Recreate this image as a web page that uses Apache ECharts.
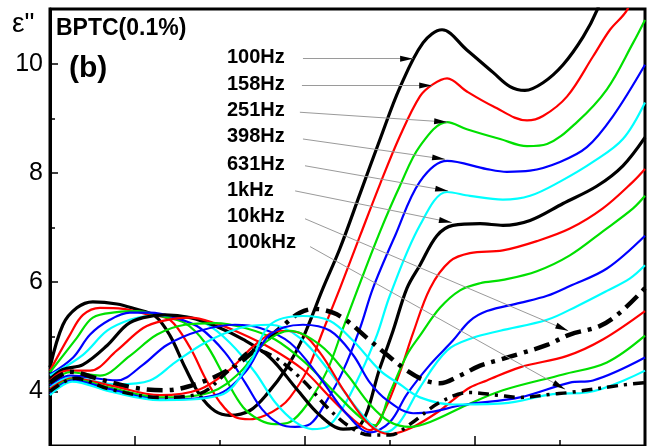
<!DOCTYPE html>
<html><head><meta charset="utf-8">
<script src="https://cdn.jsdelivr.net/npm/echarts@6/dist/echarts.min.js"></script>
<style>html,body{margin:0;padding:0;background:#fff}#c{width:650px;height:446px}</style>
</head><body><div id="c"></div>
<script>
// ---- axis ticks ----
const yTicks = [4, 6, 8, 10];
const yMinorTicks = [5, 7, 9];
const xTicks = [50, 100, 150];
const xMinorTicks = [75, 125, 175];

// ---- curves: [temperature, eps''] ----
const f100Hz = [[25,4.44],[28.8,5.22],[32.9,5.53],[37.6,5.64],[44.7,5.6],[50,5.51],[55.9,5.38],[60.3,5.02],[64.7,4.44],[69.1,3.93],[73.5,3.64],[77.9,3.56],[83.8,3.65],[88.8,3.95],[94.7,4.44],[99.4,4.98],[105.3,5.89],[110.3,6.62],[116.2,7.62],[122.1,8.62],[127.9,9.56],[134.7,10.38],[140.3,10.62],[147.6,10.25],[155.3,9.84],[160.3,9.58],[164.7,9.51],[170,9.65],[175.9,9.98],[181.8,10.49],[185.9,10.98],[188,11.4]];
const f158Hz = [[25,4.38],[30.9,5.04],[34.7,5.4],[39.7,5.53],[46.5,5.51],[54.4,5.4],[60.3,5.31],[66.2,4.8],[70.6,4.25],[75,3.8],[79.4,3.53],[83.8,3.49],[88.2,3.56],[92.6,3.71],[95.6,3.89],[100.6,4.38],[105.3,5.11],[110.3,5.89],[116.2,6.85],[122.1,7.8],[127.9,8.67],[133.8,9.4],[137.6,9.62],[141.8,9.73],[147.6,9.49],[155.3,9.22],[165.3,8.96],[170,9.04],[177.1,9.4],[184.7,10.13],[189.7,10.62],[194.7,10.98],[196,11.3]];
const f251Hz = [[25,4.35],[32.9,4.98],[37.6,5.35],[44.7,5.45],[50.6,5.47],[57.4,5.38],[64.7,5.25],[70.6,4.89],[76.5,4.25],[81.8,3.71],[86.8,3.47],[91.2,3.4],[95.6,3.44],[100.6,3.76],[106.5,4.38],[111.2,5.16],[115.6,5.89],[122.1,6.93],[127.9,7.76],[133.8,8.49],[141.8,8.93],[147.6,8.8],[157.4,8.62],[165.3,8.49],[171.2,8.53],[180,8.93],[188.8,9.53],[196.5,10.38],[200,10.8]];
const f398Hz = [[25,4.31],[31.8,4.62],[36.8,5.04],[42.6,5.31],[48.5,5.44],[54.4,5.44],[61.8,5.35],[69.1,5.16],[76.5,4.71],[82.4,4.16],[87.4,3.67],[92.6,3.4],[97.1,3.35],[101.5,3.4],[106.5,3.84],[111.2,4.38],[116.2,5.16],[120,5.89],[126.5,6.85],[133.8,7.84],[141.8,8.22],[153.5,8.07],[159.4,8.02],[166.2,8.04],[175,8.2],[182.9,8.47],[190.6,9.04],[200,9.98]];
const f631Hz = [[25,4.29],[34.7,4.67],[41.8,5.11],[48.5,5.31],[54.4,5.38],[63.2,5.38],[70.6,5.25],[77.9,4.89],[85.3,4.35],[91.2,3.8],[97.1,3.44],[102.1,3.31],[106.5,3.35],[111.2,3.71],[116.2,4.31],[121.2,5.04],[125,5.76],[133.8,7.04],[141.8,7.65],[148.5,7.58],[158.2,7.51],[166.2,7.58],[175,7.84],[184.7,8.2],[193.5,8.62],[200,9.29]];
const f1kHz = [[25,4.22],[28.8,4.4],[34.7,4.49],[41.8,4.84],[47.6,5.22],[52.4,5.35],[58.8,5.4],[66.2,5.35],[73.5,5.2],[81.8,4.95],[89.7,4.62],[97.6,4.04],[104.4,3.56],[111.2,3.31],[116.2,3.38],[122.1,4.44],[125.9,5.11],[130,5.89],[133.8,6.31],[138.8,6.85],[143.5,7.04],[151.5,7.07],[158.2,7.04],[166.2,7.13],[175.9,7.44],[185.9,7.76],[193.5,8.13],[200,8.65]];
const f1k58Hz = [[25,4.2],[30,4.38],[36.8,4.38],[44.7,4.75],[52.4,5.16],[58.2,5.29],[66.2,5.35],[73.5,5.25],[80.9,5.07],[89.7,4.8],[99.4,4.4],[107.4,3.89],[114.1,3.49],[119.1,3.29],[123.5,3.67],[127.9,4.35],[131.8,5.07],[136.8,5.89],[142.6,6.38],[148.5,6.53],[158.2,6.58],[168.2,6.75],[177.9,6.98],[187.6,7.35],[196.5,7.84],[200,8.07]];
const f2k51Hz = [[25,4.16],[30.9,4.35],[39.7,4.29],[48.5,4.65],[56.5,5.04],[64.7,5.22],[73.5,5.25],[82.4,5.16],[91.2,4.95],[100,4.53],[108.8,3.98],[116.2,3.53],[120.6,3.38],[125,3.98],[130,4.67],[133.8,5.02],[139.7,5.53],[145.6,5.85],[151.5,5.98],[158.2,6.04],[168.2,6.2],[177.9,6.49],[187.6,6.93],[196.5,7.35],[200,7.58]];
const f3k98Hz = [[25,4.11],[30.9,4.29],[44.7,4.2],[52.4,4.49],[59.4,4.85],[69.1,5.11],[79.4,5.22],[86.8,5.16],[95.6,4.89],[104.4,4.25],[111.8,3.62],[119.1,3.25],[125,3.44],[130,3.95],[136.8,4.49],[143.5,4.93],[148.5,5.29],[153.5,5.47],[163.2,5.62],[171.2,5.75],[177.9,5.93],[188.8,6.25],[200,6.85]];
const f6k31Hz = [[25,4.07],[30.9,4.25],[44.7,4.13],[54.4,4.2],[61.8,4.53],[70.6,4.89],[80.9,5.16],[89.7,5.22],[98.5,4.98],[107.4,4.35],[116.2,3.62],[123.5,3.25],[127.9,3.44],[133.8,4.07],[141.8,4.75],[149.4,4.98],[157.4,5.11],[171.2,5.31],[180,5.56],[188.8,5.84],[195.6,6.07],[200,6.31]];
const f10kHz = [[25,4.16],[30.9,4.36],[39.7,4.22],[49.4,4.07],[58.8,4.02],[69.1,4.16],[78.8,4.44],[86.8,4.84],[93.5,5.2],[98.5,5.44],[102.9,5.51],[108.2,5.44],[112.4,5.29],[118.2,4.98],[124.1,4.67],[130,4.38],[135.3,4.2],[139.7,4.15],[145.6,4.29],[151.5,4.47],[157.4,4.58],[163.2,4.69],[171.2,4.85],[177.9,5.04],[186.8,5.2],[192.6,5.44],[200,5.89]];
const f15k8Hz = [[25,4.04],[31.5,4.24],[42.6,4.11],[57.4,3.93],[69.1,4.04],[77.9,4.4],[85.3,4.85],[92.6,5.11],[98.5,5.07],[104.4,4.71],[111.8,3.98],[119.1,3.38],[125,3.22],[131.8,3.35],[139.7,3.65],[143.5,3.84],[148.5,4.07],[153.5,4.2],[163.2,4.44],[177.1,4.65],[187.6,4.95],[200,5.47]];
const f25k1Hz = [[25,4.0],[31.5,4.22],[42.6,4.07],[57.4,3.89],[72.1,3.98],[80.9,4.35],[88.2,4.89],[95.6,5.11],[104.4,4.85],[112.4,4.31],[119.1,3.76],[125,3.44],[130.9,3.35],[136.8,3.44],[147.6,3.75],[158.2,4.02],[175.9,4.31],[188.8,4.53],[200,5.02]];
const f39k8Hz = [[25,3.96],[31.5,4.2],[42.6,4.04],[57.4,3.85],[73.5,3.93],[82.4,4.35],[89.7,5.04],[99.4,5.22],[107.4,5.11],[114.1,4.67],[119.1,4.16],[124.1,3.84],[131.8,3.6],[136.8,3.62],[146.5,3.75],[163.2,3.89],[177.9,4.16],[184.7,4.2],[200,4.62]];
const f63k1Hz = [[25,3.93],[31.5,4.18],[42.6,4.0],[57.4,3.84],[75,3.93],[83.8,4.53],[89.7,5.22],[99.4,5.38],[107.4,5.29],[114.1,4.93],[122.1,4.38],[127.9,4.13],[133.8,3.89],[143.5,3.76],[158.2,3.78],[172.9,3.95],[182.9,3.98],[200,4.38]];
const f100kHz = [[25,4.0],[32.4,4.24],[42.6,4.04],[57.4,3.89],[69.1,3.96],[77.9,4.4],[85.3,4.76],[91.2,4.62],[99.4,4.2],[106.5,3.71],[113.2,3.35],[119.1,3.2],[125,3.2],[130.9,3.4],[139.7,3.8],[148.5,3.98],[156.5,3.93],[163.2,3.89],[172.9,3.95],[177.9,3.98],[192.6,4.11],[200,4.16]];

// ---- annotation labels and arrows (data coords) ----
const freqLabels = ['100Hz','158Hz','251Hz','398Hz','631Hz','1kHz','10kHz','100kHz'];
const arrowStart = [[99.4,10.09],[99.1,9.6],[98.5,9.11],[99.4,8.62],[100,8.13],[97.1,7.67],[100,7.16],[101.5,6.65]];
const arrowEnd = [[131.8,10.09],[137.4,9.6],[141.8,8.93],[141.2,8.25],[142.1,7.67],[143.2,7.09],[177.4,5.11],[176.5,4.04]];

const RED='#ff0000', GRN='#00e000', BLU='#0000ff', CYN='#00ffff', BLK='#000000';
const curves = [
  {name:'100Hz', data:f100Hz, color:BLK, width:3.2},
  {name:'158Hz', data:f158Hz, color:RED, width:2.2},
  {name:'251Hz', data:f251Hz, color:GRN, width:2.2},
  {name:'398Hz', data:f398Hz, color:BLU, width:2.2},
  {name:'631Hz', data:f631Hz, color:CYN, width:2.2},
  {name:'1kHz', data:f1kHz, color:BLK, width:3.2},
  {name:'1.58kHz', data:f1k58Hz, color:RED, width:2.2},
  {name:'2.51kHz', data:f2k51Hz, color:GRN, width:2.2},
  {name:'3.98kHz', data:f3k98Hz, color:BLU, width:2.2},
  {name:'6.31kHz', data:f6k31Hz, color:CYN, width:2.2},
  {name:'10kHz', data:f10kHz, color:BLK, width:4.5, dash:[16,7,4,7]},
  {name:'15.8kHz', data:f15k8Hz, color:RED, width:2.2},
  {name:'25.1kHz', data:f25k1Hz, color:GRN, width:2.2},
  {name:'39.8kHz', data:f39k8Hz, color:BLU, width:2.2},
  {name:'63.1kHz', data:f63k1Hz, color:CYN, width:2.2},
  {name:'100kHz', data:f100kHz, color:BLK, width:3.5, dash:[11,6,3,6]}
];

const series = curves.map(c => ({
  name: c.name, type: 'line', data: c.data, showSymbol: false, smooth: 0.35,
  clip: true, animation: false,
  lineStyle: {color: c.color, width: c.width, type: c.dash ? c.dash : 'solid', cap: 'butt'}
}));

// gray leader lines
series.push({
  type: 'line', data: [], silent: true,
  markLine: {
    silent: true, animation: false, symbol: ['none','none'], label: {show:false},
    lineStyle: {color:'#9a9a9a', width:1, type:'solid'},
    data: arrowStart.map((s,i) => [{coord:s}, {coord:arrowEnd[i]}])
  }
});
// black arrow heads at the ends of the leaders
const HEAD_W = 6, HEAD_H = 13;
const headPoints = arrowStart.map((s,i) => {
  const e = arrowEnd[i];
  const th = Math.atan2((e[1]-s[1])*55, (e[0]-s[0])*3.4);
  return {
    coord: e,
    symbolRotate: th * 180 / Math.PI - 90,
    symbolOffset: [-(HEAD_H/2)*Math.cos(th), (HEAD_H/2)*Math.sin(th)]
  };
});
series.push({
  type: 'line', data: [], silent: true,
  markPoint: {
    silent: true, animation: false, symbol: 'triangle', symbolSize: [HEAD_W, HEAD_H],
    label: {show:false}, itemStyle: {color:'#000'},
    data: headPoints
  }
});

const FONT = 'Liberation Sans, Arial, sans-serif';
const labelY = [57, 84, 110, 136, 164, 190, 216, 242];
const graphic = [
  {type:'text', left:12, top:10, style:{text:'ε"', font:'28px ' + FONT, fill:'#000'}},
  {type:'text', left:56, top:17, style:{text:'BPTC(0.1%)', font:'bold 23px ' + FONT, fill:'#000'}},
  {type:'text', left:69, top:54, style:{text:'(b)', font:'bold 30px ' + FONT, fill:'#000'}}
].concat(freqLabels.map((t,i) => ({
  type:'text', left:227, top: labelY[i] - 10, style:{text:t, font:'bold 20px ' + FONT, fill:'#000'}
})));

const chart = echarts.init(document.getElementById('c'), null, {renderer:'canvas'});
chart.setOption({
  animation: false,
  backgroundColor: '#fff',
  grid: {left:50, top:9, width:595, height:440, show:true, borderColor:'#000', borderWidth:3, backgroundColor:'transparent'},
  xAxis: [
    {type:'value', min:25, max:200, interval:25, axisLine:{show:false}, splitLine:{show:false},
     axisLabel:{show:false}, axisTick:{inside:true, length:10, customValues:xTicks, lineStyle:{color:'#000', width:1.5}}},
    {type:'value', min:25, max:200, interval:25, position:'bottom', axisLine:{show:false}, splitLine:{show:false},
     axisLabel:{show:false}, axisTick:{inside:true, length:6, customValues:xMinorTicks, lineStyle:{color:'#000', width:1.5}}}
  ],
  yAxis: [
    {type:'value', min:3, max:11, interval:1, axisLine:{show:true, lineStyle:{color:'#000', width:3}}, splitLine:{show:false},
     axisTick:{inside:true, length:8, customValues:yTicks, lineStyle:{color:'#000', width:1.5}},
     axisLabel:{customValues:yTicks, color:'#000', fontSize:25, fontFamily:FONT, margin:7}},
    {type:'value', min:3, max:11, interval:1, position:'left', axisLine:{show:false}, splitLine:{show:false},
     axisTick:{inside:true, length:5, customValues:yMinorTicks, lineStyle:{color:'#000', width:1.5}},
     axisLabel:{show:false}}
  ],
  series: series,
  graphic: graphic
});
</script></body></html>
